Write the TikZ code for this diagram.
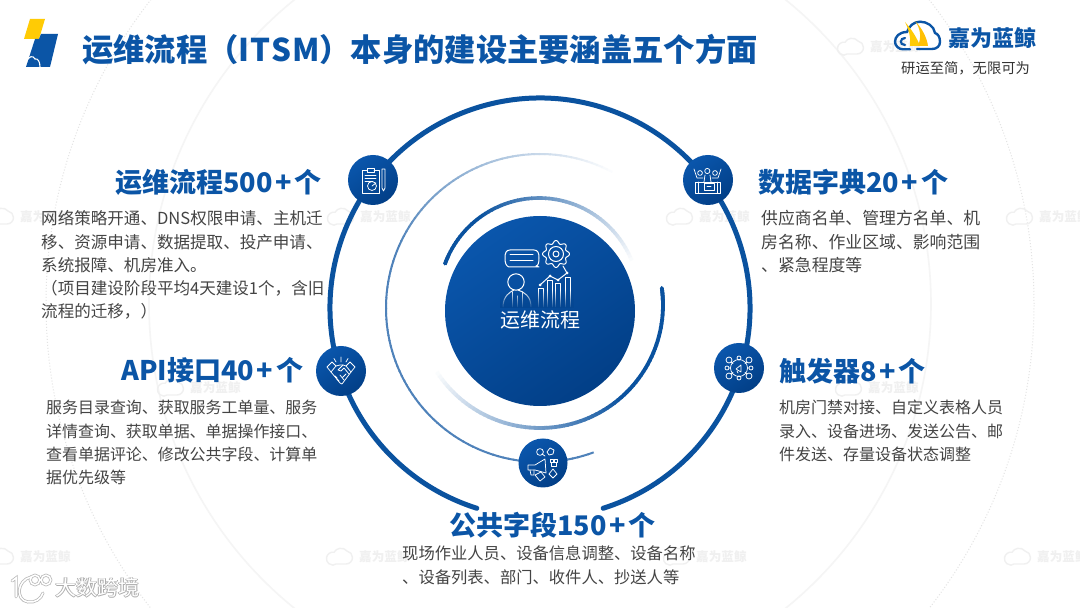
\documentclass[tikz,border=0pt]{standalone}
\usepackage{fontspec}
\setmainfont{Noto Sans CJK SC}
\usetikzlibrary{fadings}
\definecolor{ringblue}{HTML}{0A529F}
\definecolor{headblue}{HTML}{0B55A6}
\definecolor{discA}{HTML}{0A56AC}
\definecolor{discB}{HTML}{023F87}
\definecolor{bodygray}{HTML}{444444}
\definecolor{wmgray}{HTML}{F0F0F0}
\definecolor{bgring}{HTML}{F5F5F5}
\definecolor{logoyellow}{HTML}{FFCB05}
\newcommand{\fs}[1]{\fontsize{#1}{#1}\selectfont}
\newcommand{\plusk}{\hspace{2.9pt}+\hspace{2.9pt}}
\newcommand{\flp}{\char"FF08\relax}
\newcommand{\frp}{\char"FF09\relax}
\newcommand{\fcm}{\char"FF0C\relax}
\tikzset{
  heading/.style={anchor=west,inner sep=0pt,text=headblue,font=\fs{27}\bfseries},
  bodytext/.style={anchor=west,inner sep=0pt,text=bodygray,font=\fs{#1}},
  disc/.style={circle,inner sep=0pt,minimum size=#1,shading=axis,left color=discA,right color=discB,shading angle=35},
  icon/.style={draw=white,line width=0.75pt,line cap=round,line join=round,fill=none},
  wmtext/.style={anchor=west,inner sep=0pt,text=wmgray,font=\fs{12.6}\bfseries},
}
\newcommand{\wm}[3]{%
  \draw[wmgray,line width=1.4pt] (#2+9,608-#3-7) -- (#2+19,608-#3-7)
    arc[start angle=-90,end angle=80,radius=6.5] arc[start angle=40,end angle=150,radius=8]
    arc[start angle=80,end angle=270,radius=6.5] -- cycle;
  \node[wmtext] (#1) at (#2+32,608-#3) {嘉为蓝鲸};
}
\begin{document}
\begin{tikzpicture}[x=1pt,y=1pt]
\useasboundingbox (0,0) rectangle (1080,608);
\fill[white] (0,0) rectangle (1080,608);
% background rings
\coordinate (bgc) at (540,304);
\draw[bgring,line width=1.6pt] (bgc) circle[radius=391];
\draw[black!11,line width=1pt,dotted] (bgc) circle[radius=494];
% watermarks
\wm{wa}{838}{47}
\wm{wb}{-12}{217}
\wm{wc}{328}{217}
\wm{wd}{667}{217}
\wm{we}{1007}{217}
\wm{wf}{158}{388}
\wm{wg}{836}{388}
\wm{wh}{-12}{557}
\wm{wi}{327}{557}
\wm{wj}{664}{557}
\wm{wk}{1005}{557}
% top-left logo
\fill[logoyellow] (30,589) -- (45,589) -- (39,569) -- (24,569) -- cycle;
\fill[headblue] (35,569) -- (39,569) -- (41,574) -- (58,574) -- (50,541) -- (26,541) -- cycle;
\draw[white,line width=1.1pt] (26,546) .. controls (29,552) and (33,553) .. (35,549) .. controls (38,550) and (40,546) .. (40,541);
% top-right logo
\draw[headblue,line width=2.4pt,line cap=round] (917,559) -- (932,559) .. controls (937,559) and (940,562) .. (940,566.3) .. controls (940,571) and (938,574) .. (935,575) .. controls (934,582) and (927,586.3) .. (920,586.3) .. controls (914,586.3) and (909,582) .. (907,576) .. controls (899,576) and (895,571) .. (895,566.3) .. controls (895,562) and (899,558.7) .. (903,558.7) -- (910,558.7);
\draw[headblue,line width=2.2pt,line cap=round] (905,570) .. controls (900,570) and (899,563) .. (905,563);
\fill[logoyellow] (905,586) .. controls (912,578) and (917,570) .. (920,562) -- (910,562) .. controls (911,570) and (909,578) .. (905,586) -- cycle;
\fill[logoyellow!85!orange] (915,587) .. controls (922,580) and (927,570) .. (928,562) -- (918,562) .. controls (922,572) and (920,580) .. (915,587) -- cycle;
\node[anchor=west,inner sep=0pt,text=headblue,font=\fs{22}\bfseries] (logoname) at (948,570) {嘉为蓝鲸};
\node[anchor=west,inner sep=0pt,text=black!80,font=\fs{14.3}] (slogan) at (901,540) {研运至简\fcm 无限可为};
% title
\node[anchor=west,inner sep=0pt,text=headblue,font=\fs{31.3}\bfseries] (title) at (82,558) {运维流程\flp I\hspace{0.8pt}T\hspace{0.8pt}S\hspace{0.8pt}M\frp 本身的建设主要涵盖五个方面};
% outer ring
\coordinate (rc) at (540,300);
\draw[ringblue,line width=5pt,line cap=round] ([shift=(-72.5:210)]rc) arc[start angle=-72.5,end angle=252.5,radius=210];
% thin ring, fading towards the top right
\coordinate (tc) at (540,300);
\foreach \a in {60,62,...,288}{
  \pgfmathsetmacro\p{min(72,(\a-60)*0.75)}
  \draw[color=ringblue!\p!white,line width=2pt] ([shift=(\a:154)]tc) arc[start angle=\a,end angle=\a+2.4,radius=154];
}
% upper inner arc
\coordinate (uc) at (539,310);
\foreach \a in {20,22,...,158}{
  \pgfmathsetmacro\p{min(100,(\a-20)/1.05)}
  \draw[color=ringblue!\p!white,line width=3.6pt] ([shift=(\a:100)]uc) arc[start angle=\a,end angle=\a+2.4,radius=100];
}
\draw[ringblue,line width=3.6pt,line cap=round] ([shift=(155:100)]uc) arc[start angle=155,end angle=160,radius=100];
% lower inner arc
\coordinate (lc) at (540,303);
\foreach \a in {211,213,...,365}{
  \pgfmathsetmacro\p{min(100,(\a-211)/1.0)}
  \draw[color=ringblue!\p!white,line width=3.8pt] ([shift=(\a:123)]lc) arc[start angle=\a,end angle=\a+2.4,radius=123];
}
\draw[ringblue,line width=3.8pt,line cap=round] ([shift=(362:123)]lc) arc[start angle=362,end angle=368,radius=123];
% centre disc
\node[disc=190pt] (centre) at (540,297) {};
\node[inner sep=0pt,text=white,font=\fs{20}] (centrelabel) at (540,288) {运维流程};
% centre icon
\begin{scope}[icon,line width=1pt]
  % message box
  \draw (510,358) -- (534,358) .. controls (538,358) and (539,355) .. (539,350) .. controls (539,345) and (538,342) .. (536,342) -- (539,341) -- (509,341) .. controls (506,342) and (505,345) .. (505,350) .. controls (505,355) and (506,358) .. (510,358) -- cycle;
  \draw (510,353) -- (533,353) (510,347) -- (533,347);
  % gear
  \draw plot[domain=0:360,samples=97,smooth] ({556+(12+1.5*cos(8*\x))*cos(\x)},{354+(12+1.5*cos(8*\x))*sin(\x)});
  \draw (556,354) circle[radius=7.5] (556,354) circle[radius=3];
  % chart line
  \draw (540,323) -- (550,332) -- (558,328) -- (567,335) -- (563,342);
  \fill[white] (540,323) circle[radius=1.5] (550,332) circle[radius=1.5] (558,328) circle[radius=1.5] (567,335) circle[radius=1.5];
  % person
  \draw (516,326) circle[radius=8.2];
  \draw (503,301) .. controls (503,312) and (510,316) .. (514,318) (531,301) .. controls (531,312) and (524,316) .. (518,318);
  \draw (512,316) -- (512,301) (517,312) -- (517,301) (522,316) -- (522,301);
  % bars
  \draw (538,301) -- (538,319) -- (543,319) -- (543,301);
  \draw (547,301) -- (547,327) -- (552,327) -- (552,301);
  \draw (555,301) -- (555,324) -- (560,324) -- (560,301);
  \draw (565,301) -- (565,330) -- (570,330) -- (570,301);
\end{scope}
\fill[discB!70!discA,path fading=north] (500,300) rectangle (574,318);
% satellite discs
\node[disc=50pt] (d1) at (373,428) {};
\node[disc=50pt] (d2) at (708,428) {};
\node[disc=50pt] (d3) at (341,237) {};
\node[disc=50pt] (d4) at (739,240) {};
\node[disc=49pt] (d5) at (543,145) {};
% icon 1: clipboard and pencil
\begin{scope}[shift={(d1)},icon]
  \draw (-6,10) -- (-11,10) -- (-11,-13) -- (6,-13) -- (6,10) -- (1,10);
  \draw (-6,8) rectangle (1,11.5);
  \draw (-8,5) -- (3,5) (-8,2) -- (3,2) (-8,-1) -- (0,-1);
  \draw (-1,-6) circle[radius=4.5] (-1,-6) -- (3,-3);
  \draw (9,11) -- (12,11) -- (12,-8) -- (10.5,-11) -- (9,-8) -- cycle;
\end{scope}
% icon 2: people and screen
\begin{scope}[shift={(d2)},icon]
  \draw (-13,-2) rectangle (12,-13);
  \draw (-10,-2) -- (-10,-13) (9,-2) -- (9,-13);
  \draw (-4,-3) rectangle (6,-10);
  \draw (-1,-6) -- (3,-6);
  \draw (-8,7) circle[radius=2.4] (-0.7,9) circle[radius=2.6] (7,7) circle[radius=2.4];
  \draw (-14,11) -- (-11,2) -- (-5,2) (13,11) -- (10,2) -- (4,2);
  \draw (-4,-2) -- (-3,5) (3,-2) -- (2,5);
\end{scope}
% icon 3: hub
\begin{scope}[shift={(d4)},icon]
  \draw (0,0) circle[radius=8.5];
  \draw (-3,-1) -- (2,3) -- (2,-4) -- cycle (-2,-3) -- (-1,-5);
  \foreach \sx/\sy/\sr in {-10/8/3,0/10/2,10/8/3,-12/0/2,12/0/2,-10/-8/3,0/-10/2,10/-8/3}{
    \draw (\sx,\sy) circle[radius=\sr];
  }
  \draw (-8,6) -- (-6,4.5) (0,8) -- (0,8.5) (8,6) -- (6,4.5) (-10,0) -- (-8.5,0) (10,0) -- (8.5,0) (-8,-6) -- (-6,-4.5) (0,-8) -- (0,-8.5) (8,-6) -- (6,-4.5);
\end{scope}
% icon 4: handshake
\begin{scope}[shift={(d3)},icon]
  \draw (-14,4) -- (-9,9) -- (-5,5) -- (-10,-1) -- cycle;
  \draw (14,4) -- (9,9) -- (5,5) -- (10,-1) -- cycle;
  \draw (-5,5) -- (-1,6) -- (2,6) -- (5,5);
  \draw (-10,-1) -- (-1,-12) -- (1,-13) -- (10,-1);
  \draw (2,6) -- (-3,1) -- (0,0) -- (3,3) -- (8,-3);
  \draw (-6,-5) -- (-4,-7) (-4,-8) -- (-2,-10) (2,-6) -- (5,-3) (-1,-4) -- (3,-9);
  \draw (0,9) -- (0,14) (-5,9) -- (-7,12.5) (5,9) -- (7,12.5);
\end{scope}
% icon 5: megaphone and tags
\begin{scope}[shift={(d5)},icon]
  \draw (-8,-2) -- (2,4) -- (3,-10) -- (-8,-7) -- (-15,-7) -- (-15,-2) -- cycle;
  \draw (-13,-7) -- (-12,-12) -- (-9,-12) -- (-9,-7);
  \draw (-3,11) circle[radius=3.4] (-1,9) -- (2,7);
  \draw (7,15) -- (11,13) -- (10,9) -- (6,8) -- (4,11) -- cycle;
  \draw (7,1) rectangle (10,4) (11,1) rectangle (14,4) (8,-3) rectangle (13,1);
  \draw (6,-11) -- (10,-6) -- (14,-11) -- (10,-15) -- cycle;
  \draw (-8,-12) -- (-2,-9) -- (2,-14) -- (-3,-18) -- cycle;
\end{scope}
% section texts
\node[heading] (h1) at (115,426) {运维流程500\plusk 个};
\node[bodytext=16.55] (b11) at (41,390) {网络策略开通、DNS权限申请、主机迁};
\node[bodytext=16.55] (b12) at (41,366) {移、资源申请、数据提取、投产申请、};
\node[bodytext=16.55] (b13) at (41,343) {系统报障、机房准入。};
\node[bodytext=16.55] (b14) at (41,320) {\flp 项目建设阶段平均4天建设1个\fcm 含旧};
\node[bodytext=16.55] (b15) at (41,297) {流程的迁移\fcm\frp};
\node[heading] (h2) at (758,426) {数据字典20\plusk 个};
\node[bodytext=16.85] (b21) at (761,390) {供应商名单、管理方名单、机};
\node[bodytext=16.85] (b22) at (761,366) {房名称、作业区域、影响范围};
\node[bodytext=16.85] (b23) at (761,343) {、紧急程度等};
\node[heading] (h3) at (121,238) {API接口40\plusk 个};
\node[bodytext=15.95] (b31) at (46,201) {服务目录查询、获取服务工单量、服务};
\node[bodytext=15.95] (b32) at (46,177) {详情查询、获取单据、单据操作接口、};
\node[bodytext=15.95] (b33) at (46,154) {查看单据评论、修改公共字段、计算单};
\node[bodytext=15.95] (b34) at (46,131) {据优先级等};
\node[heading] (h4) at (779,237) {触发器8\plusk 个};
\node[bodytext=16] (b41) at (779,201) {机房门禁对接、自定义表格人员};
\node[bodytext=16] (b42) at (779,177) {录入、设备进场、发送公告、邮};
\node[bodytext=16] (b43) at (779,154) {件发送、存量设备状态调整};
\node[heading] (h5) at (449,83) {公共字段150\plusk 个};
\node[bodytext=16.3] (b51) at (402,55) {现场作业人员、设备信息调整、设备名称};
\node[bodytext=16.3] (b52) at (402,31) {、设备列表、部门、收件人、抄送人等};
% bottom-left mark
\foreach \dx/\dy in {-0.9/0,0.9/0,0/-0.9,0/0.9}{
  \node[anchor=west,inner sep=0pt,text=black!32,font=\fs{21}] at (55+\dx,20+\dy) {大数跨境};
}
\node[anchor=west,inner sep=0pt,text=white,font=\fs{21}] (markname) at (55,20) {大数跨境};
\foreach \col/\lw in {black!28/3pt,white/1.5pt}{
  \draw[color=\col,line width=\lw,line cap=round] (12,27) -- (16,30) -- (16,11);
  \draw[color=\col,line width=\lw,line cap=round] (31,31) .. controls (17,28) and (15,8) .. (28,6) .. controls (35,5) and (41,9) .. (43,15);
  \draw[color=\col,line width=\lw] (35,28) circle[radius=4.8] (46,28) circle[radius=4.8];
}
\end{tikzpicture}
\end{document}
